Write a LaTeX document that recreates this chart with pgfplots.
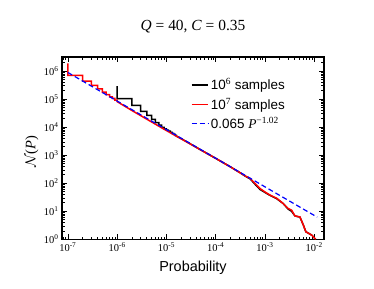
\documentclass[border=0pt]{standalone}
\usepackage{fontspec}
\setmainfont{Liberation Serif}
\setsansfont{Liberation Sans}
\usepackage{pgfplots}
\pgfplotsset{compat=1.18}
\begin{document}
\begin{tikzpicture}
\useasboundingbox (-62bp,-49.7bp) rectangle (312bp,239.3bp);
\begin{axis}[
  at={(0,0)}, anchor=south west,
  scale only axis, width=262bp, height=182.3bp,
  xmode=log, ymode=log,
  xmin=7.6e-8, xmax=1.58e-2, ymin=1, ymax=3.2e6,
  axis line style={line width=1.1bp},
  every tick/.style={black, line width=0.7bp},
  major tick length=5bp, minor tick length=2.8bp,
  tick align=inside,
  xtick={1e-7,1e-6,1e-5,1e-4,1e-3,1e-2},
  xticklabels={10\textsuperscript{-7},10\textsuperscript{-6},10\textsuperscript{-5},10\textsuperscript{-4},10\textsuperscript{-3},10\textsuperscript{-2}},
  minor xtick={8e-8,9e-8,2e-7,3e-7,4e-7,5e-7,6e-7,7e-7,8e-7,9e-7,2e-6,3e-6,4e-6,5e-6,6e-6,7e-6,8e-6,9e-6,2e-5,3e-5,4e-5,5e-5,6e-5,7e-5,8e-5,9e-5,2e-4,3e-4,4e-4,5e-4,6e-4,7e-4,8e-4,9e-4,2e-3,3e-3,4e-3,5e-3,6e-3,7e-3,8e-3,9e-3},
  ytick={1,10,100,1000,10000,100000,1000000},
  yticklabels={10\textsuperscript{0},10\textsuperscript{1},10\textsuperscript{2},10\textsuperscript{3},10\textsuperscript{4},10\textsuperscript{5},10\textsuperscript{6}},
  minor ytick={2,3,4,5,6,7,8,9,20,30,40,50,60,70,80,90,200,300,400,500,600,700,800,900,2000,3000,4000,5000,6000,7000,8000,9000,2e4,3e4,4e4,5e4,6e4,7e4,8e4,9e4,2e5,3e5,4e5,5e5,6e5,7e5,8e5,9e5,2e6,3e6},
  ticklabel style={font=\fontsize{10.5}{12}\selectfont},
  xlabel={Probability},
  xlabel style={font=\fontsize{14.5}{16}\selectfont\sffamily, at={(axis description cs:0.5,0)}, anchor=center, yshift=-28bp},
  ylabel={$\mathcal{N}$(\textit{P})},
  ylabel style={font=\fontsize{14.5}{16}\selectfont, at={(axis description cs:-0.1145,0.48)}, anchor=center},
  title={\textit{Q} = 40, \textit{C} = 0.35},
  title style={font=\fontsize{15.5}{18}\selectfont, at={(axis description cs:0.5,1)}, anchor=center, yshift=24bp},
  legend style={draw=none, fill=none, at={(axis description cs:0.48,0.905)}, anchor=north west, font=\fontsize{13.5}{15}\selectfont\sffamily, row sep=2.5bp},
  legend cell align=left,
  legend image code/.code={\draw[#1] (-0.12cm,0cm) -- (0.46cm,0cm);},
]
\addplot[black, line width=1.5bp] coordinates {
(1e-6,2.9e5) (1e-6,1.05e5) (2e-6,1.05e5) (2e-6,6.0e4) (3e-6,6.0e4) (3e-6,3.7e4)
(4e-6,3.7e4) (4e-6,2.65e4) (5e-6,2.65e4) (5e-6,1.9e4) (6e-6,1.9e4) (6e-6,1.45e4)
(7e-6,1.45e4) (7e-6,1.18e4) (8e-6,1.18e4) (8e-6,9.8e3) (9e-6,9.8e3) (9e-6,8.7e3)
(1e-5,8.7e3) (1e-5,7.9e3) (1.1e-5,7.9e3) (1.1e-5,7.2e3) (1.2e-5,7.2e3) (1.2e-5,6.55e3)
(1.3e-5,6.55e3) (1.3e-5,6.0e3) (1.4e-5,6.0e3) (1.4e-5,5.55e3) (1.5e-5,5.55e3) (1.5e-5,5.15e3)
(1.6e-5,5.15e3) (1.6e-5,4.8e3) (1.8e-5,4.3e3) (2e-5,3.9e3) (3e-5,2.6e3) (5e-5,1.54e3)
(1e-4,775) (2e-4,383) (3.2e-4,232) (3.98e-4,180) (5.01e-4,143) (6.31e-4,92) (7.94e-4,60)
(1e-3,47) (1.26e-3,37) (1.74e-3,28) (2.34e-3,19) (2.95e-3,12) (3.47e-3,10) (4.07e-3,6.8)
(5.13e-3,6.2) (6.03e-3,3.2) (6.76e-3,1.86) (8.91e-3,1.41) (1.07e-2,1)
};
\addlegendentry{10\textsuperscript{\rmfamily 6} samples}
\addplot[red, line width=1.5bp] coordinates {
(1e-7,1.9e6) (1e-7,7.1e5) (2e-7,7.1e5) (2e-7,4.4e5) (3e-7,4.4e5) (3e-7,3.1e5)
(4e-7,3.1e5) (4e-7,2.35e5) (5e-7,2.35e5) (5e-7,1.8e5) (6e-7,1.8e5) (6e-7,1.45e5)
(7e-7,1.45e5) (7e-7,1.22e5) (8e-7,1.22e5) (8e-7,1.06e5) (9e-7,1.06e5) (9e-7,9.3e4)
(1e-6,9.3e4) (1e-6,8.2e4) (2e-6,3.93e4) (3e-6,2.6e4) (5e-6,1.54e4) (1e-5,7.6e3)
(2e-5,3.84e3) (5e-5,1.54e3) (1e-4,775) (2e-4,383) (3.2e-4,230) (3.98e-4,182)
(5.01e-4,148) (6.31e-4,98) (7.94e-4,65) (1e-3,49) (1.26e-3,38) (1.74e-3,29)
(2.34e-3,19) (2.95e-3,12.6) (3.47e-3,11) (4.07e-3,6.8) (5.13e-3,6.3) (6.03e-3,3.2)
(6.76e-3,1.86) (8.91e-3,1.41) (1.07e-2,1)
};
\addlegendentry{10\textsuperscript{\rmfamily 7} samples}
\addplot[blue, line width=1.2bp, dash pattern=on 5bp off 3bp] coordinates {
(1e-7,8.97e5) (1.15e-2,6.18)
};
\addlegendentry{0.065 {\rmfamily\itshape P}\textsuperscript{\rmfamily −1.02}}
\end{axis}
\end{tikzpicture}
\end{document}
